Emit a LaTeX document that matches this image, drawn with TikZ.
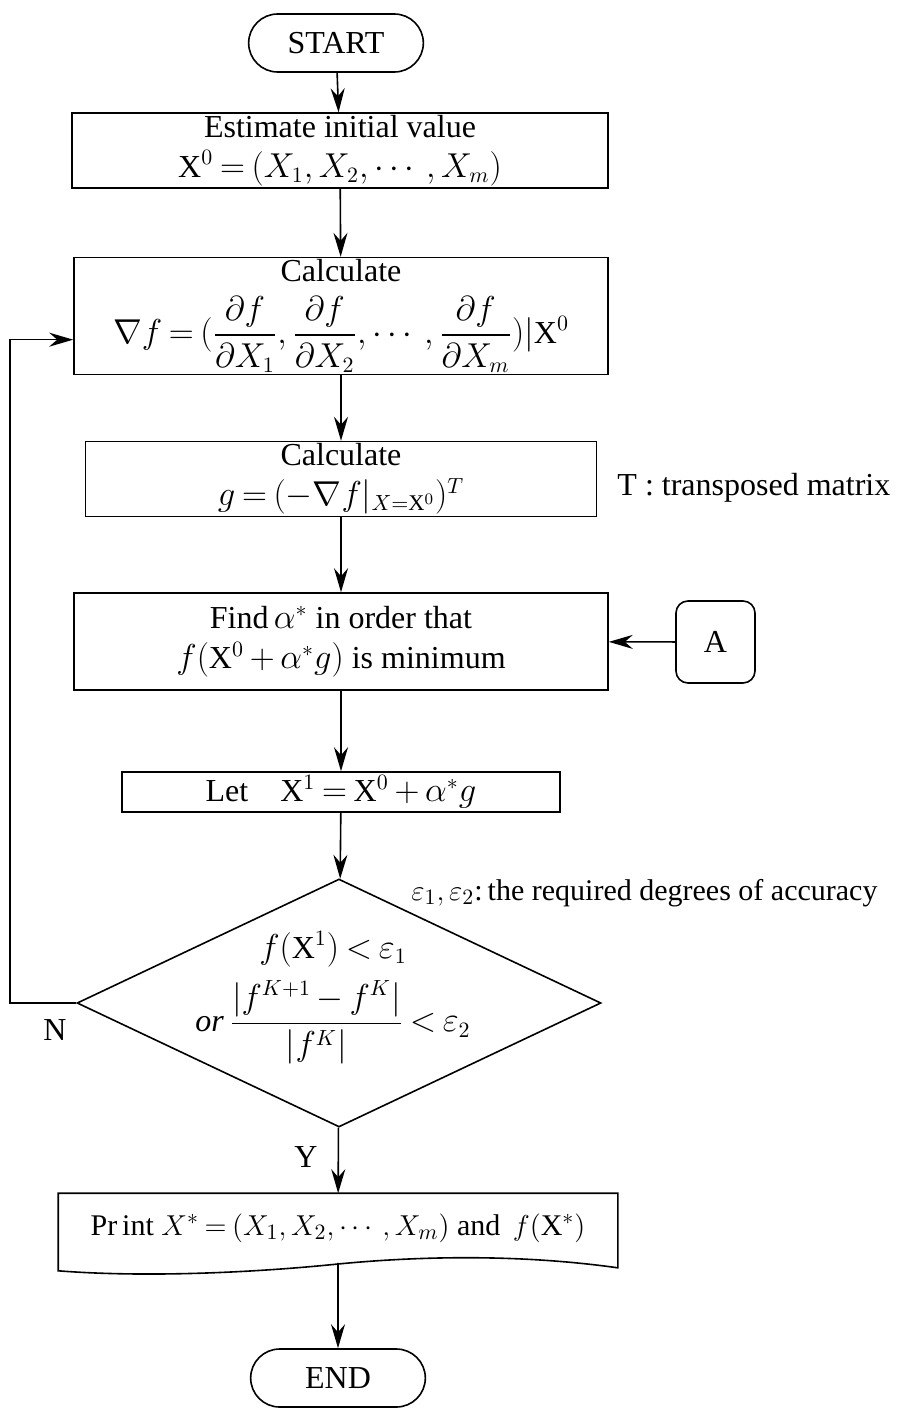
\documentclass[tikz,border=0pt]{standalone}
\usepackage{amsmath}
\usepackage{fontspec}
\setmainfont{Liberation Serif}
\usetikzlibrary{positioning,arrows.meta,calc,shapes.geometric,shapes.misc}
\medmuskip=3mu plus 1mu minus 2mu
\thickmuskip=3.5mu plus 2mu

\begin{document}
\begin{tikzpicture}[x=0.5pt,y=-0.5pt,
  font=\fontsize{16}{17}\selectfont,
  line width=0.8pt,
  flow/.style={-{Stealth[length=12pt,width=7pt,inset=4pt]}},
  box/.style={draw,rectangle,align=center,inner sep=1pt},
  term/.style={draw,rounded rectangle,minimum width=94pt,minimum height=29pt},
  decision/.style={draw,diamond,aspect=2.11,minimum width=262pt,minimum height=124pt,inner sep=0pt}]
\useasboundingbox (0,0) rectangle (897,1408);
% --- main column ---
\node[term] (start) at (336,43) {START};
\node[box,minimum width=268pt,minimum height=34.5pt] (est) at (340,150.5)
  {Estimate initial value\\[3pt] $\mathrm{X}^0=(X_1,X_2,\cdots,X_m)$};
\node[box,minimum width=267pt,minimum height=44.5pt] (grad) at (341,316)
  {Calculate\\[6pt] $\nabla f=(\dfrac{\partial f}{\partial X_1},\dfrac{\partial f}{\partial X_2},\cdots,\dfrac{\partial f}{\partial X_m})|\mathrm{X}^0$};
\node[box,minimum width=255.5pt,minimum height=36pt] (calcg) at (341,479)
  {Calculate\\[3pt] $g=(-\nabla f|_{X=\mathrm{X}^0})^T$};
\node[box,minimum width=267pt,minimum height=48.5pt] (find) at (341,641.5)
  {Find\,$\alpha^*$ in order that\\[3pt] $f(\mathrm{X}^0+\alpha^*g)$ is minimum};
\node[box,minimum width=219pt,minimum height=20pt] (letx) at (341,792)
  {Let\quad $\mathrm{X}^1=\mathrm{X}^0+\alpha^*g$};
\node[decision] (dia) at (339,1003) {};
\node[align=center] (cond) at ($(dia.center)+(-6,-5)$)
  {$f(\mathrm{X}^1)<\varepsilon_1$\\[6pt] $\mathit{or}\,\dfrac{|f^{K+1}-f^K|}{|f^K|}<\varepsilon_2$};
% print box with wavy bottom
\node[minimum width=279pt,minimum height=34pt,inner sep=0pt,font=\fontsize{15}{17}\selectfont] (print) at (338,1228)
  {Pr\,int $X^*=(X_1,X_2,\cdots,X_m)$ and\, $f(\mathrm{X}^*)$};
\draw (print.north west) -- (print.north east) -- ($(print.south east)+(0,5)$)
  .. controls (520,1254) and (420,1256) .. (338,1264)
  .. controls (260,1272) and (150,1278) .. ($(print.south west)+(0,8)$) -- cycle;
\node[term] (end) at (338,1378) {END};
% --- side nodes ---
\node[draw,rounded corners=6pt,minimum width=39.5pt,minimum height=41pt] (anode) at (715.5,642) {A};
\node[anchor=west] (tnote) at (610,488) {T : transposed matrix};
\node[anchor=west,font=\fontsize{15}{17}\selectfont] (epsnote) at (404,893) {$\varepsilon_1,\varepsilon_2$:\,the required degrees of accuracy};
\node (nlab) at (55,1030) {N};
\node (ylab) at (306,1157) {Y};
\coordinate (loopc) at (10,1003);
% --- connectors ---
\draw[flow] (start) -- (est);
\draw[flow] (est) -- (grad);
\draw[flow] (grad) -- (calcg);
\draw[flow] (calcg) -- (find);
\draw[flow] (find) -- (letx);
\draw[flow] (letx) -- (dia);
\draw[flow] (dia) -- (print);
\draw[flow] (print.south) -- (end);
\draw[flow] (anode) -- (find);
\draw[flow] (dia.west) -- (loopc) |- ($(grad.south west)!0.3!(grad.north west)$);
\end{tikzpicture}
\end{document}
